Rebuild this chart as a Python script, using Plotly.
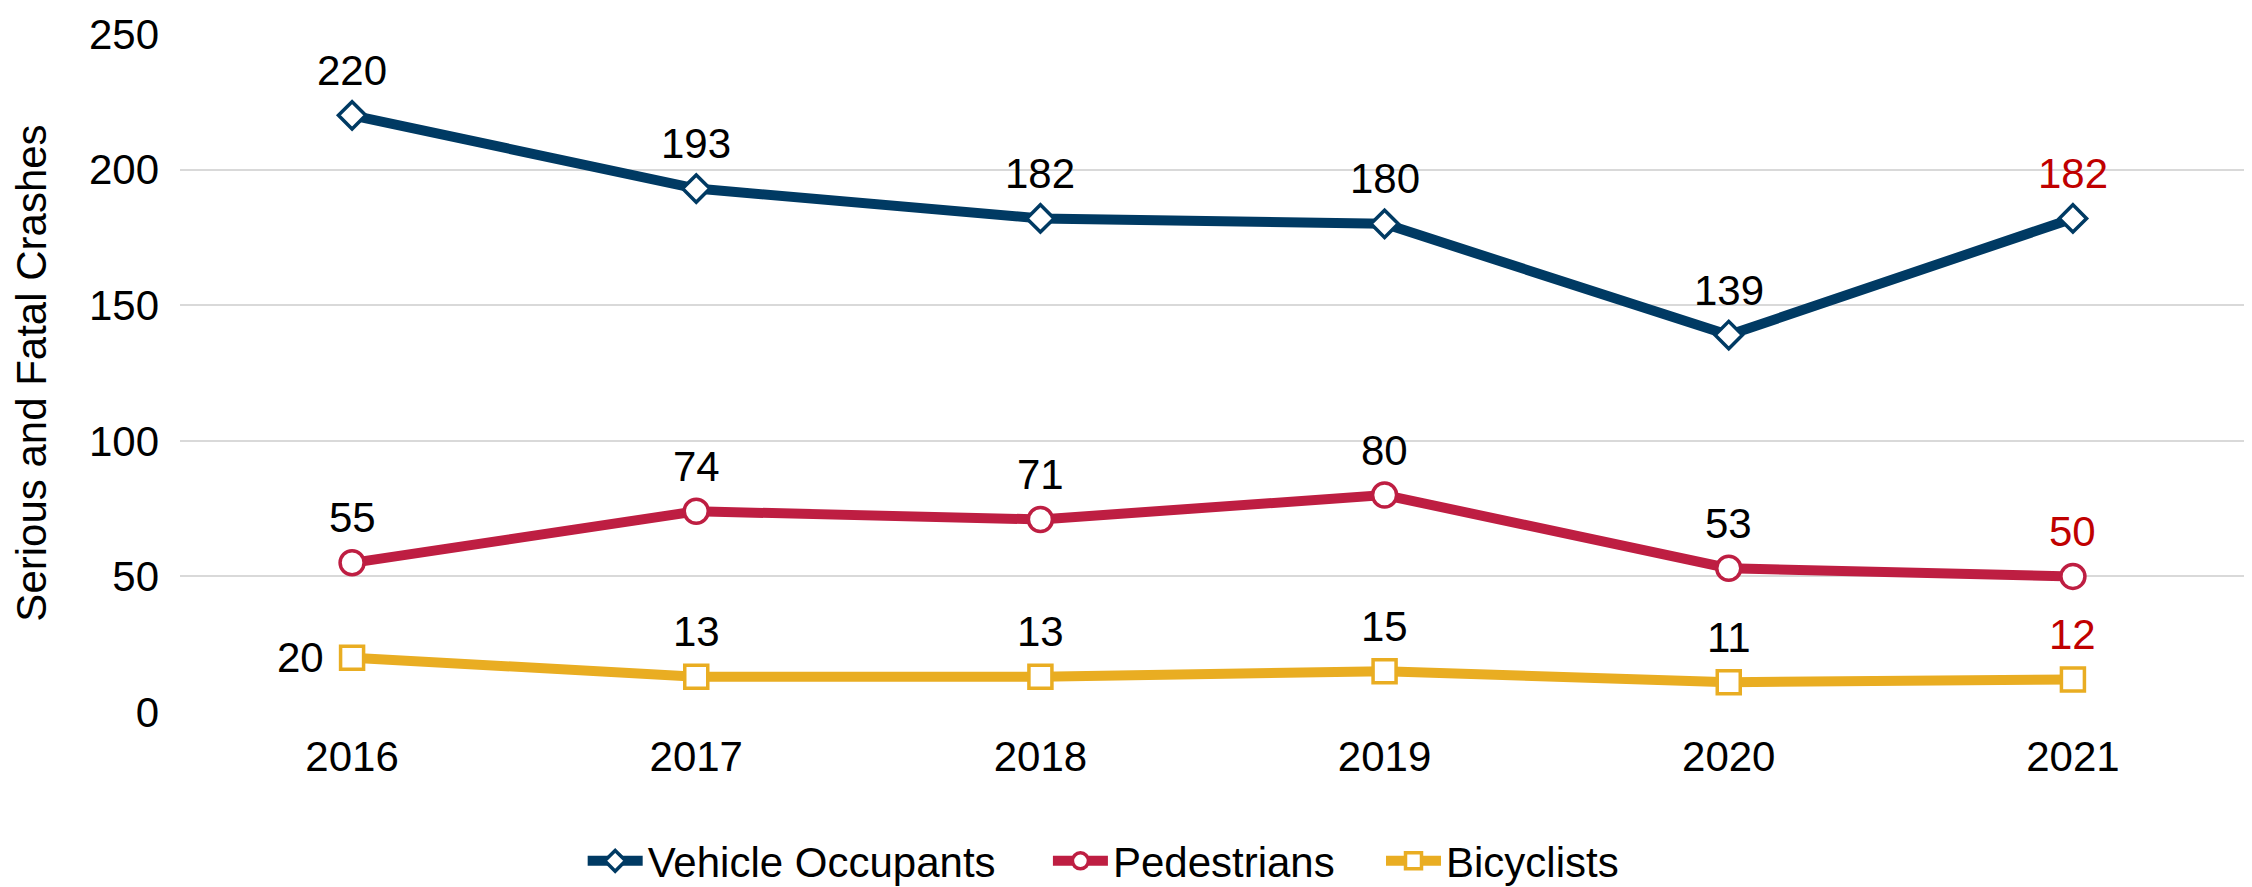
import plotly.graph_objects as go

years = ["2016", "2017", "2018", "2019", "2020", "2021"]
vehicle = [220, 193, 182, 180, 139, 182]
pedestrians = [55, 74, 71, 80, 53, 50]
bicyclists = [20, 13, 13, 15, 11, 12]
y_ticks = [0, 50, 100, 150, 200, 250]

NAVY = "#003A63"
RED = "#BE1E42"
GOLD = "#E9AD22"
LABEL_RED = "#C00000"
FONT = "Liberation Sans, Arial, sans-serif"
FS = 42

fig = go.Figure()
series = [
    ("Vehicle Occupants", vehicle, NAVY, "diamond", 21, "legend"),
    ("Pedestrians", pedestrians, RED, "circle", 24, "legend2"),
    ("Bicyclists", bicyclists, GOLD, "square", 23, "legend3"),
]
for name, vals, color, sym, size, lg in series:
    fig.add_trace(go.Scatter(
        x=years, y=vals, name=name, mode="lines+markers",
        line=dict(color=color, width=10),
        marker=dict(symbol=sym, size=size, color="white",
                    line=dict(color=color, width=3.5)),
        legend=lg,
    ))

annotations = []
for name, vals, color, sym, size, lg in series:
    for i, v in enumerate(vals):
        col = LABEL_RED if i == len(years) - 1 else "black"
        if name == "Bicyclists" and i == 0:
            annotations.append(dict(x=i, y=v, xref="x", yref="y", text=str(v),
                                    showarrow=False, xshift=-52, yshift=0,
                                    font=dict(family=FONT, size=FS, color=col)))
        else:
            annotations.append(dict(x=i, y=v, xref="x", yref="y", text=str(v),
                                    showarrow=False, yshift=45,
                                    font=dict(family=FONT, size=FS, color=col)))

def make_legend(xpos):
    return dict(orientation="h", x=xpos, xanchor="left",
                yref="container", y=0, yanchor="bottom",
                font=dict(family=FONT, size=FS, color="black"),
                itemwidth=55, bgcolor="rgba(0,0,0,0)")

fig.update_layout(
    width=2252, height=887,
    margin=dict(l=172, r=15, t=26, b=183, autoexpand=False),
    plot_bgcolor="white", paper_bgcolor="white",
    font=dict(family=FONT, size=FS, color="black"),
    annotations=annotations,
    showlegend=True,
    legend=make_legend(0.195),
    legend2=make_legend(0.4203),
    legend3=make_legend(0.5816),
    xaxis=dict(type="category", range=[-0.5, 5.5], showgrid=False, showline=False,
               zeroline=False, ticks="",
               tickfont=dict(family=FONT, size=FS, color="black"),
               ticklabelstandoff=16),
    yaxis=dict(range=[0, 250], tickvals=y_ticks, showgrid=True,
               gridcolor="#D9D9D9", gridwidth=2, zeroline=False, showline=False,
               ticks="", tickfont=dict(family=FONT, size=FS, color="black"),
               ticklabelstandoff=20,
               title=dict(text="Serious and Fatal Crashes",
                          font=dict(family=FONT, size=FS, color="black"),
                          standoff=30)),
)

fig.write_html("out.html")
